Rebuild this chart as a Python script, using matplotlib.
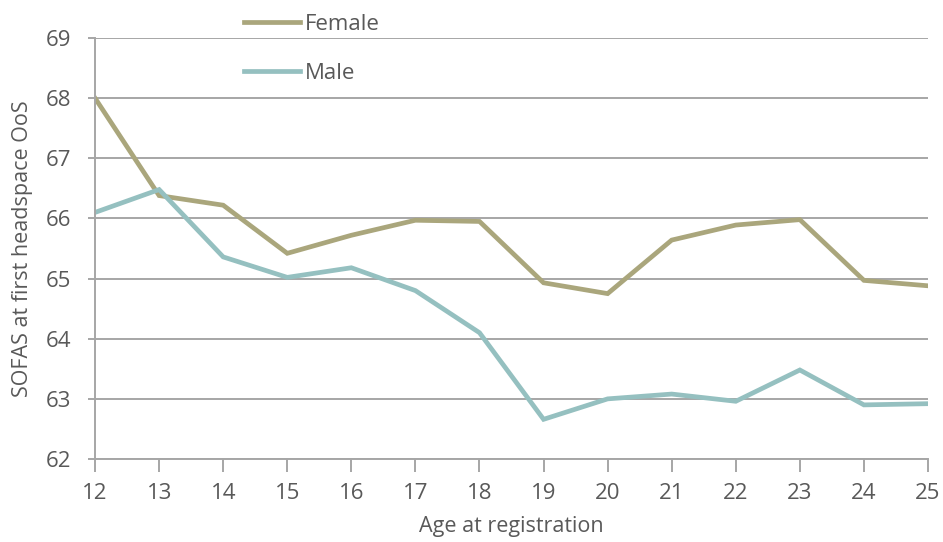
import matplotlib
matplotlib.use("Agg")
from matplotlib import pyplot as plt

ages = list(range(12, 26))
female = [68.0, 66.38, 66.22, 65.42, 65.72, 65.97, 65.95, 64.93, 64.75,
          65.64, 65.89, 65.98, 64.97, 64.88]
male = [66.1, 66.48, 65.36, 65.02, 65.18, 64.8, 64.1, 62.66, 63.0,
        63.08, 62.96, 63.48, 62.9, 62.92]

plt.rcParams["font.family"] = ["Open Sans", "DejaVu Sans"]
text_col = "#595959"
grid_col = "#a6a6a6"

fig = plt.figure(figsize=(9.43, 5.42), dpi=100)
ax = fig.add_axes([0.1008, 0.1531, 0.8833, 0.7768])

ax.plot(ages, female, color="#aaa67c", lw=3.4, label="Female", solid_joinstyle="miter")
ax.plot(ages, male, color="#95c0c0", lw=3.4, label="Male", solid_joinstyle="miter")

ax.set_xlim(12, 25)
ax.set_ylim(62, 69)
ax.set_xticks(ages)
ax.set_yticks(range(62, 70))
ax.yaxis.grid(True, color=grid_col, lw=1.4)
ax.set_axisbelow(True)

for s in ("top", "right"):
    ax.spines[s].set_visible(False)
for s in ("left", "bottom"):
    ax.spines[s].set_color(grid_col)
    ax.spines[s].set_linewidth(1.4)

ax.tick_params(axis="both", colors=grid_col, labelcolor=text_col,
               labelsize=16, width=1.4)
ax.tick_params(axis="x", length=9, pad=8)
ax.tick_params(axis="y", length=5, pad=12)

ax.set_xlabel("Age at registration", color=text_col, fontsize=15.5, labelpad=9)
ax.set_ylabel("SOFAS at first headspace OoS", color=text_col, fontsize=15.5, labelpad=9)

leg = fig.legend(loc="upper left", bbox_to_anchor=(0.2375, 1.011), frameon=False,
                 fontsize=16, labelspacing=1.25, handlelength=2.5,
                 handletextpad=0.22, labelcolor=text_col)

fig.savefig("out.png", dpi=100)
